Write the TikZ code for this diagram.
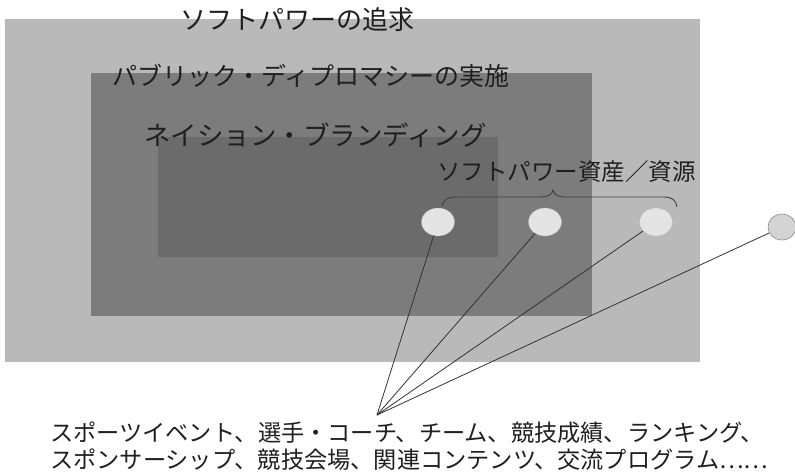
\documentclass[tikz,border=0pt]{standalone}
\usepackage{fontspec}
\setmainfont{Noto Sans CJK JP}
\usetikzlibrary{shapes.geometric}
\definecolor{outerg}{HTML}{B9B9B9}
\definecolor{midg}{HTML}{7C7C7C}
\definecolor{innerg}{HTML}{6B6B6B}
\definecolor{assetfill}{HTML}{E4E4E4}
\definecolor{assetfilltwo}{HTML}{D4D4D4}
\tikzset{
  title/.style={anchor=west, inner sep=0pt, text=black!88},
  asset/.style={ellipse, fill=assetfill, draw=assetfill!80!black, line width=0.3pt, minimum width=33pt, minimum height=28pt, inner sep=0pt},
  assetout/.style={ellipse, fill=assetfilltwo, draw=black!45, line width=0.6pt, minimum width=28pt, minimum height=26pt, inner sep=0pt},
  link/.style={draw=black!80, line width=0.8pt},
  bracepath/.style={draw=black!75, line width=0.9pt},
}
\begin{document}
\begin{tikzpicture}[x=1pt,y=-1pt]
\useasboundingbox (0,0) rectangle (795,472);
% nested areas
\fill[outerg] (5,19) rectangle (700,362);
\fill[midg] (91,73) rectangle (592,316);
\fill[innerg] (158,137) rectangle (498,257);
% titles
\node[title, font=\fontsize{26}{30}\selectfont] (t1) at (180,20) {ソフトパワーの追求};
\node[title, font=\fontsize{25}{30}\selectfont] (t2) at (112,76) {パブリック・ディプロマシーの実施};
\node[title, font=\fontsize{26.5}{30}\selectfont] (t3) at (144,135) {ネイション・ブランディング};
\node[title, font=\fontsize{23.5}{28}\selectfont] (t4) at (437,172) {ソフトパワー資産／資源};
% brace
\draw[bracepath] (442,206) .. controls (444,199) and (448,197) .. (458,197)
  -- (540,197) .. controls (548,197) and (552,195) .. (553,190)
  .. controls (554,195) and (558,197) .. (566,197)
  -- (664,197) .. controls (672,197) and (676,200) .. (677,207);
% assets
\node[asset] (e1) at (438,222) {};
\node[asset] (e2) at (545,222) {};
\node[asset] (e3) at (656,222) {};
\node[assetout] (e4) at (782,227) {};
% hub and links
\coordinate (hub) at (377,415);
\draw[link] (hub) -- (e1);
\draw[link] (hub) -- (e2);
\draw[link] (hub) -- (e3);
\draw[link] (hub) -- (e4);
% bottom text
\node[title, font=\fontsize{23.2}{28}\selectfont] (b1) at (50,433) {スポーツイベント、選手・コーチ、チーム、競技成績、ランキング、};
\node[title, font=\fontsize{23.2}{28}\selectfont] (b2) at (50,460) {スポンサーシップ、競技会場、関連コンテンツ、交流プログラム……};
\end{tikzpicture}
\end{document}
